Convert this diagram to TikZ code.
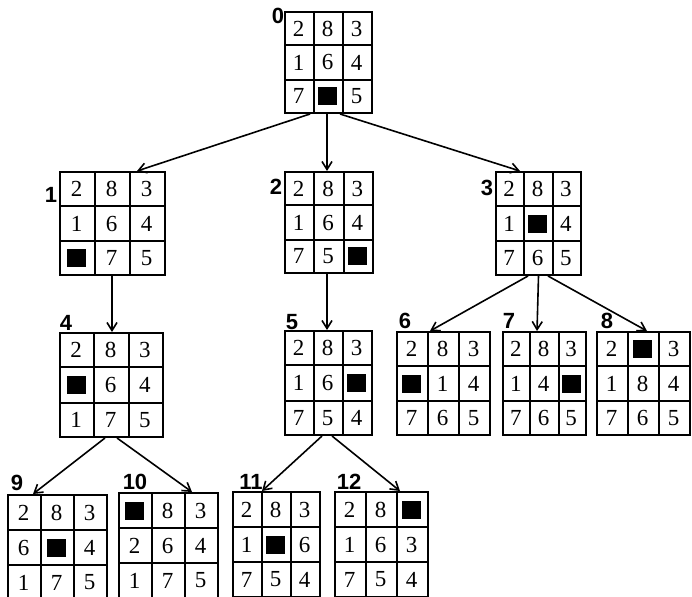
\documentclass[tikz,border=0pt]{standalone}
\usepackage{fontspec}
\setmainfont{Liberation Serif}
\newfontfamily\labfont{Liberation Sans}
\usetikzlibrary{arrows.meta,calc}
\newcommand\sq{\rule{19pt}{18pt}}
\tikzset{
  bbox/.style={draw=black, line width=2pt, inner sep=0pt, fill=white},
  gridline/.style={black, line width=1.8pt},
  cell/.style={inner sep=0pt, font=\rmfamily\fontsize{23}{23}\selectfont},
  lab/.style={inner sep=0pt, font=\labfont\bfseries\fontsize{22}{22}\selectfont},
  arr/.style={black, line width=1.6pt, -{Straight Barb[length=8pt,width=10pt,line width=1.6pt]}}
}
\newcommand\puzzle[6]{%
  \node[bbox, minimum width=#4pt, minimum height=#5pt] (#1) at (#2,#3) {};
  \draw[gridline] ($(#1.north west)!1/3!(#1.north east)$) -- ($(#1.south west)!1/3!(#1.south east)$);
  \draw[gridline] ($(#1.north west)!2/3!(#1.north east)$) -- ($(#1.south west)!2/3!(#1.south east)$);
  \draw[gridline] ($(#1.north west)!1/3!(#1.south west)$) -- ($(#1.north east)!1/3!(#1.south east)$);
  \draw[gridline] ($(#1.north west)!2/3!(#1.south west)$) -- ($(#1.north east)!2/3!(#1.south east)$);
  \foreach \v [count=\k from 0] in {#6} {
    \pgfmathtruncatemacro\rr{int(\k/3)}
    \pgfmathtruncatemacro\cc{mod(\k,3)}
    \path (#1.north west) ++({(\cc+0.5)*#4/3},{(\rr+0.5)*#5/3+1}) node[cell] (#1-\k) {\v};
  }
}
\begin{document}
\begin{tikzpicture}[x=1pt,y=-1pt]
\clip (0,0) rectangle (692,596);
\fill[white] (0,0) rectangle (692,596);

\puzzle{b0}{328.5}{62.5}{87}{101}{2,8,3,1,6,4,7,\sq,5}
\puzzle{b1}{112.5}{223.5}{105}{103}{2,8,3,1,6,4,\sq,7,5}
\puzzle{b2}{329}{222.5}{88}{101}{2,8,3,1,6,4,7,5,\sq}
\puzzle{b3}{538.5}{223.5}{85}{103}{2,8,3,1,\sq,4,7,6,5}
\puzzle{b4}{111.5}{385}{103}{104}{2,8,3,\sq,6,4,1,7,5}
\puzzle{b5}{328.5}{383}{87}{104}{2,8,3,1,6,\sq,7,5,4}
\puzzle{b6}{443.5}{383.5}{93}{103}{2,8,3,\sq,1,4,7,6,5}
\puzzle{b7}{544.5}{383.5}{83}{103}{2,8,3,1,4,\sq,7,6,5}
\puzzle{b8}{643.5}{383.5}{93}{103}{2,\sq,3,1,8,4,7,6,5}
\puzzle{b9}{57.5}{547.5}{99}{105}{2,8,3,6,\sq,4,1,7,5}
\puzzle{b10}{168.5}{545.5}{99}{105}{\sq,8,3,2,6,4,1,7,5}
\puzzle{b11}{276.5}{544.5}{87}{105}{2,8,3,1,\sq,6,7,5,4}
\puzzle{b12}{381.5}{544.5}{93}{105}{2,8,\sq,1,6,3,7,5,4}

\node[lab] (l0) at (278,16) {0};
\node[lab] (l1) at (51,195) {1};
\node[lab] (l2) at (276,187) {2};
\node[lab] (l3) at (487,188) {3};
\node[lab] (l4) at (66,323) {4};
\node[lab] (l5) at (292,322) {5};
\node[lab] (l6) at (405,321) {6};
\node[lab] (l7) at (509,321) {7};
\node[lab] (l8) at (607,321) {8};
\node[lab] (l9) at (17,483) {9};
\node[lab] (l10) at (135,482) {10};
\node[lab] (l11) at (251,482) {11};
\node[lab] (l12) at (349,482) {12};

\draw[arr] ([xshift=-18.5pt]b0.south) -- ([xshift=24.5pt]b1.north);
\draw[arr] ([xshift=-1.5pt]b0.south) -- ([xshift=-2pt]b2.north);
\draw[arr] ([xshift=11.5pt]b0.south) -- ([xshift=-18.5pt]b3.north);
\draw[arr] ([xshift=-0.5pt]b1.south) -- ([xshift=0.5pt]b4.north);
\draw[arr] ([xshift=-2pt]b2.south) -- ([xshift=-1.5pt]b5.north);
\draw[arr] ([xshift=-10.5pt]b3.south) -- ([xshift=-13.5pt]b6.north);
\draw[arr] ([xshift=0pt]b3.south) -- ([xshift=-7.5pt]b7.north);
\draw[arr] ([xshift=9.5pt]b3.south) -- ([xshift=3.5pt]b8.north);
\draw[arr] ([xshift=-6.5pt]b4.south) -- ([xshift=-24.5pt]b9.north);
\draw[arr] ([xshift=5.5pt]b4.south) -- ([xshift=23.5pt]b10.north);
\draw[arr] ([xshift=-6.5pt]b5.south) -- ([xshift=-14.5pt]b11.north);
\draw[arr] ([xshift=3.5pt]b5.south) -- ([xshift=18.5pt]b12.north);
\end{tikzpicture}
\end{document}
